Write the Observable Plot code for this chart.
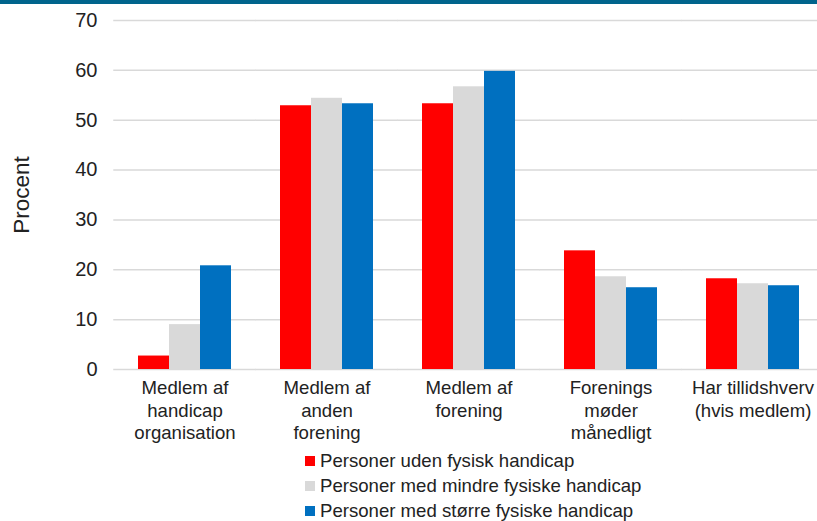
<!DOCTYPE html>
<html>
<head>
<meta charset="utf-8">
<script src="https://cdn.jsdelivr.net/npm/d3@7"></script>
<script src="https://cdn.jsdelivr.net/npm/@observablehq/plot@0.6"></script>
<style>
  html, body { margin: 0; padding: 0; background: #fff; overflow: hidden; }
  body { width: 817px; height: 521px; position: relative; font-family: "Liberation Sans", Arial, sans-serif; }
  #topbar { position: absolute; left: 0; top: 0; width: 817px; height: 4px; background: #00648c; z-index: 2; }
  #chart { position: absolute; left: 0; top: 0; }
  #legend { position: absolute; left: 305px; top: 448px; font-size: 18.6px; color: #222; }
  .row { display: flex; align-items: center; height: 25px; }
  .sw { width: 10px; height: 10px; margin-right: 5px; }
</style>
</head>
<body>
<div id="topbar"></div>
<div id="chart"></div>
<div id="legend"></div>
<script>
const categories = [
  "Medlem af\nhandicap\norganisation",
  "Medlem af\nanden\nforening",
  "Medlem af\nforening",
  "Forenings\nmøder\nmånedligt",
  "Har tillidshverv\n(hvis medlem)"
];
const series = [
  "Personer uden fysisk handicap",
  "Personer med mindre fysiske handicap",
  "Personer med større fysiske handicap"
];
const udenHandicap = [2.7, 52.9, 53.3, 23.8, 18.2];
const mindreHandicap = [9.0, 54.4, 56.7, 18.6, 17.2];
const stoerreHandicap = [20.8, 53.3, 59.8, 16.4, 16.8];
const yTicks = [0, 10, 20, 30, 40, 50, 60, 70];
const colors = ["#ff0000", "#d9d9d9", "#0070c0"];

const seriesValues = [udenHandicap, mindreHandicap, stoerreHandicap];
const data = [];
categories.forEach((c, i) => {
  series.forEach((s, j) => data.push({category: c, series: s, value: seriesValues[j][i]}));
});

const chart = Plot.plot({
  width: 817,
  height: 445,
  marginTop: 20,
  marginBottom: 76,
  marginLeft: 112,
  marginRight: 0,
  style: {fontFamily: "'Liberation Sans', Arial, sans-serif", fontSize: "18.5px", color: "#222", background: "transparent", overflow: "visible"},
  fx: {domain: categories, range: [112, 824.5], paddingInner: 1/3, paddingOuter: 1/6, label: null},
  x: {domain: series, padding: 0, axis: null},
  y: {domain: [0, 70]},
  color: {domain: series, range: colors},
  marks: [
    Plot.ruleY(yTicks, {stroke: "#d9d9d9", strokeWidth: 1.5, insetLeft: -23.75, insetRight: -23.75}),
    Plot.barY(data, {fx: "category", x: "series", y: "value", fill: "series"}),
    Plot.axisFx({anchor: "bottom", tickSize: 0, tickPadding: 9, lineHeight: 1.2, label: null, fontSize: 18.6}),
    Plot.axisY({ticks: yTicks, tickSize: 0, tickPadding: 40, label: null, fontSize: 20}),
    Plot.axisY({ticks: [], tickSize: 0, label: "Procent", labelAnchor: "center", labelArrow: "none", labelOffset: 124, fontSize: 22.5, dy: 11})
  ]
});
document.getElementById("chart").appendChild(chart);

const legend = d3.select("#legend");
series.forEach((s, i) => {
  const row = legend.append("div").attr("class", "row");
  row.append("div").attr("class", "sw").style("background", colors[i]);
  row.append("span").text(s);
});
</script>
</body>
</html>
